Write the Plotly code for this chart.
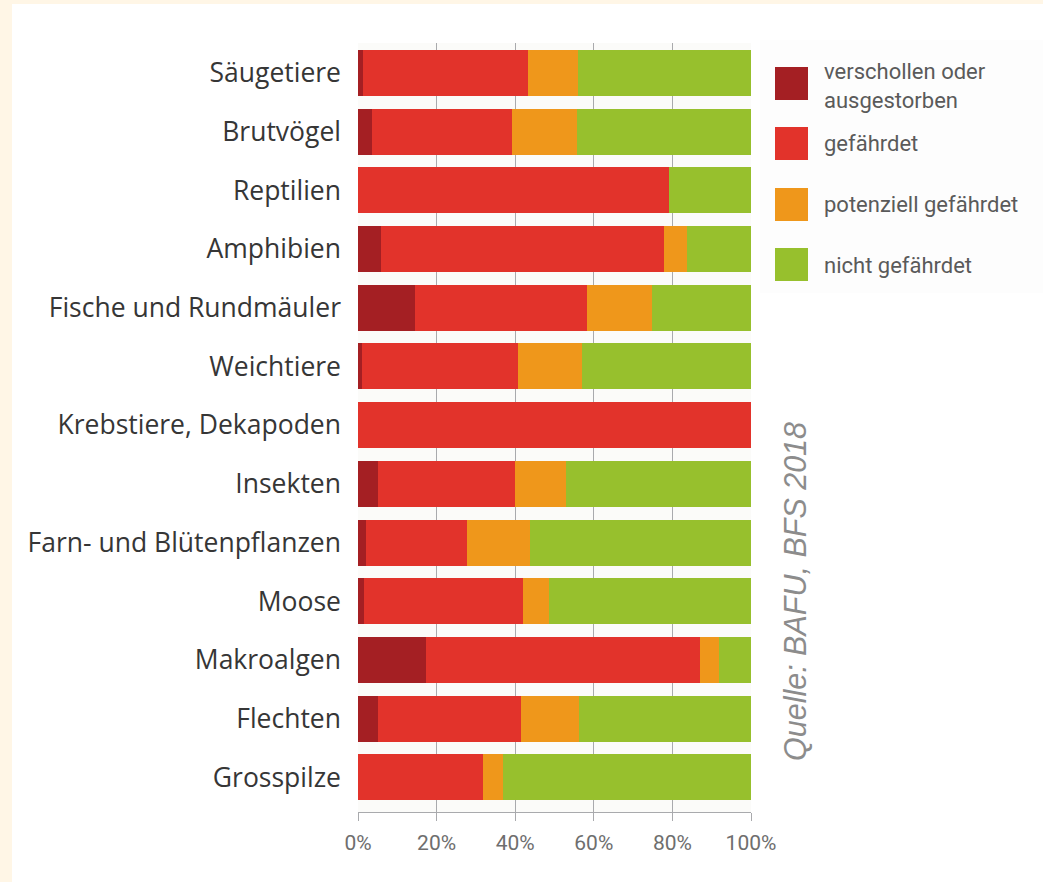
import plotly.graph_objects as go

# Species groups (top to bottom)
categories = [
    "Säugetiere", "Brutvögel", "Reptilien", "Amphibien",
    "Fische und Rundmäuler", "Weichtiere", "Krebstiere, Dekapoden",
    "Insekten", "Farn- und Blütenpflanzen", "Moose", "Makroalgen",
    "Flechten", "Grosspilze",
]

# Share of species per threat status, in percent
verschollen = [1.3, 3.6, 0.0, 5.8, 14.5, 1.1, 0.0, 5.2, 2.1, 1.5, 17.3, 5.2, 0.0]
gefaehrdet = [41.9, 35.7, 79.2, 72.0, 43.8, 39.5, 100.0, 34.7, 25.6, 40.4, 69.8, 36.2, 31.7]
potenziell = [12.9, 16.4, 0.0, 6.0, 16.5, 16.3, 0.0, 13.1, 16.1, 6.8, 4.7, 14.8, 5.1]
nicht = [43.9, 44.3, 20.8, 16.2, 25.2, 43.1, 0.0, 47.0, 56.2, 51.3, 8.2, 43.8, 63.2]

x_ticks = [0, 20, 40, 60, 80, 100]
x_tick_labels = ["0%", "20%", "40%", "60%", "80%", "100%"]

series = [
    ("verschollen oder<br>ausgestorben", verschollen, "#A41F23"),
    ("gefährdet", gefaehrdet, "#E2332B"),
    ("potenziell gefährdet", potenziell, "#EF971B"),
    ("nicht gefährdet", nicht, "#97C02D"),
]

fig = go.Figure()
for name, vals, color in series:
    fig.add_trace(go.Bar(
        y=categories, x=vals, name=name, orientation="h",
        marker=dict(color=color, line=dict(width=0)),
        showlegend=False,
    ))

W, H = 1043, 882
L, R, T, B = 358, 292, 43, 70

fig.update_layout(
    width=W, height=H,
    margin=dict(l=L, r=R, t=T, b=B, pad=0),
    barmode="stack",
    bargap=0.216,
    paper_bgcolor="#ffffff",
    plot_bgcolor="#fbfbf9",
    xaxis=dict(
        range=[0, 100], tickvals=x_ticks, ticktext=x_tick_labels,
        showgrid=True, gridcolor="#a9aaad", gridwidth=1,
        showline=True, linecolor="#a9aaad", linewidth=1,
        ticks="outside", ticklen=8, tickcolor="#a9aaad",
        ticklabelstandoff=4,
        tickfont=dict(family="Roboto, sans-serif", size=21, color="#6e6e6e"),
        zeroline=False, fixedrange=True,
    ),
    yaxis=dict(
        type="category", categoryorder="array", categoryarray=categories,
        range=[12.59, -0.51], autorange=False,
        showgrid=False, showline=False, zeroline=False,
        ticks="", ticklabelstandoff=16,
        tickfont=dict(family="Open Sans, sans-serif", size=26.5, color="#363636"),
        fixedrange=True,
    ),
)

shapes = []
annotations = []

# Cream frame strips along the top and left edges
shapes.append(dict(type="rect", xref="paper", yref="paper", layer="below",
                   x0=-L / (W - L - R), x1=(W - L) / (W - L - R),
                   y0=1 + (T - 4) / (H - T - B), y1=1 + T / (H - T - B),
                   fillcolor="#fff6e6", line=dict(width=0)))
shapes.append(dict(type="rect", xref="paper", yref="paper", layer="below",
                   x0=-L / (W - L - R), x1=(12 - L) / (W - L - R),
                   y0=-B / (H - T - B), y1=1 + T / (H - T - B),
                   fillcolor="#fff6e6", line=dict(width=0)))


def px_x(px):
    return (px - L) / (W - L - R)


def px_y(py):
    return 1 - (py - T) / (H - T - B)


# Legend panel
shapes.append(dict(type="rect", xref="paper", yref="paper", layer="below",
                   x0=px_x(760), x1=px_x(1043), y0=px_y(293), y1=px_y(40),
                   fillcolor="#fdfdfd", line=dict(width=0)))

legend_tops = [67, 127, 188, 248]
legend_text_y = [86, 143, 205, 265]
for (name, _, color), top, ty in zip(series, legend_tops, legend_text_y):
    shapes.append(dict(type="rect", xref="paper", yref="paper",
                       x0=px_x(775), x1=px_x(808), y0=px_y(top + 33), y1=px_y(top),
                       fillcolor=color, line=dict(width=0)))
    annotations.append(dict(xref="paper", yref="paper", x=px_x(822), y=px_y(ty),
                            text=name, showarrow=False, xanchor="left", yanchor="middle",
                            align="left",
                            font=dict(family="Roboto, sans-serif", size=22, color="#5a5a5a")))

# Source note
annotations.append(dict(xref="paper", yref="paper", x=px_x(795), y=px_y(592),
                        text="<i>Quelle: BAFU, BFS 2018</i>", showarrow=False,
                        textangle=-90, xanchor="center", yanchor="middle",
                        font=dict(family="Liberation Sans, Arial, sans-serif", size=30.5,
                                  color="#8c8c8c")))

fig.update_layout(shapes=shapes, annotations=annotations)

fig.write_html("out.html")
